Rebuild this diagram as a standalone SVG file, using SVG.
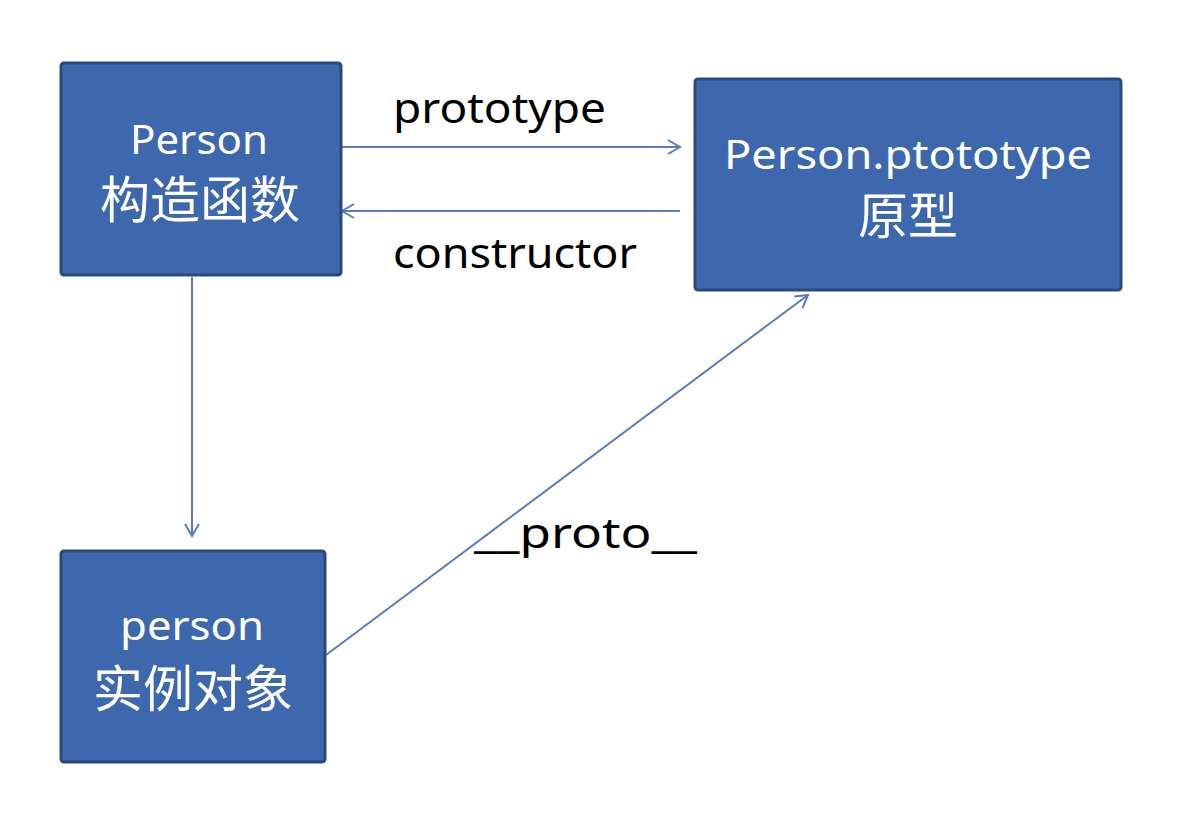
<svg xmlns="http://www.w3.org/2000/svg" width="1190" height="820" viewBox="0 0 1190 820">
<defs>
<marker id="arr" markerWidth="20" markerHeight="20" refX="14" refY="8" orient="auto" markerUnits="userSpaceOnUse">
<path d="M2,1 L14,8 L2,15" fill="none" stroke="#5a7db5" stroke-width="2"/>
</marker>
<style>
.box{fill:#3d68ad;stroke:#2b4a7c;stroke-width:3}
.bt{fill:#ffffff;font-family:"Noto Sans","Noto Sans CJK SC",sans-serif;text-anchor:middle}
.en{font-size:40px}
.cn{font-size:50px;font-family:"Noto Sans CJK SC",sans-serif}
.lb{fill:#000000;font-family:"Noto Sans","Noto Sans CJK SC",sans-serif;font-size:41px}
.cx{fill:none;stroke:#5a7db5;stroke-width:2}
</style>
</defs>
<rect width="1190" height="820" fill="#ffffff"/>
<g id="connectors">
<line class="cx" x1="342" y1="147" x2="680" y2="147" marker-end="url(#arr)"/>
<line class="cx" x1="680" y1="211" x2="342" y2="211" marker-end="url(#arr)"/>
<line class="cx" x1="192" y1="277" x2="192" y2="536" marker-end="url(#arr)"/>
<line class="cx" x1="326" y1="655" x2="808" y2="295" marker-end="url(#arr)"/>
<text class="lb" x="393" y="123" textLength="213" lengthAdjust="spacingAndGlyphs">prototype</text>
<text class="lb" x="393" y="268" textLength="244" lengthAdjust="spacingAndGlyphs">constructor</text>
<text class="lb" x="474" y="548" textLength="223" lengthAdjust="spacingAndGlyphs">__proto__</text>
</g>
<g id="node-person-ctor">
<rect class="box" x="61" y="63" width="280" height="212" rx="3"/>
<text class="bt en" x="199" y="154" textLength="138" lengthAdjust="spacingAndGlyphs">Person</text>
<text class="bt cn" x="200" y="218">构造函数</text>
</g>
<g id="node-prototype">
<rect class="box" x="695" y="79" width="426" height="211" rx="3"/>
<text class="bt en" x="908" y="169" textLength="368" lengthAdjust="spacingAndGlyphs">Person.ptototype</text>
<text class="bt cn" x="908" y="234">原型</text>
</g>
<g id="node-instance">
<rect class="box" x="61" y="551" width="264" height="211" rx="3"/>
<text class="bt en" x="192" y="640" textLength="144" lengthAdjust="spacingAndGlyphs">person</text>
<text class="bt cn" x="193" y="707">实例对象</text>
</g>
</svg>
